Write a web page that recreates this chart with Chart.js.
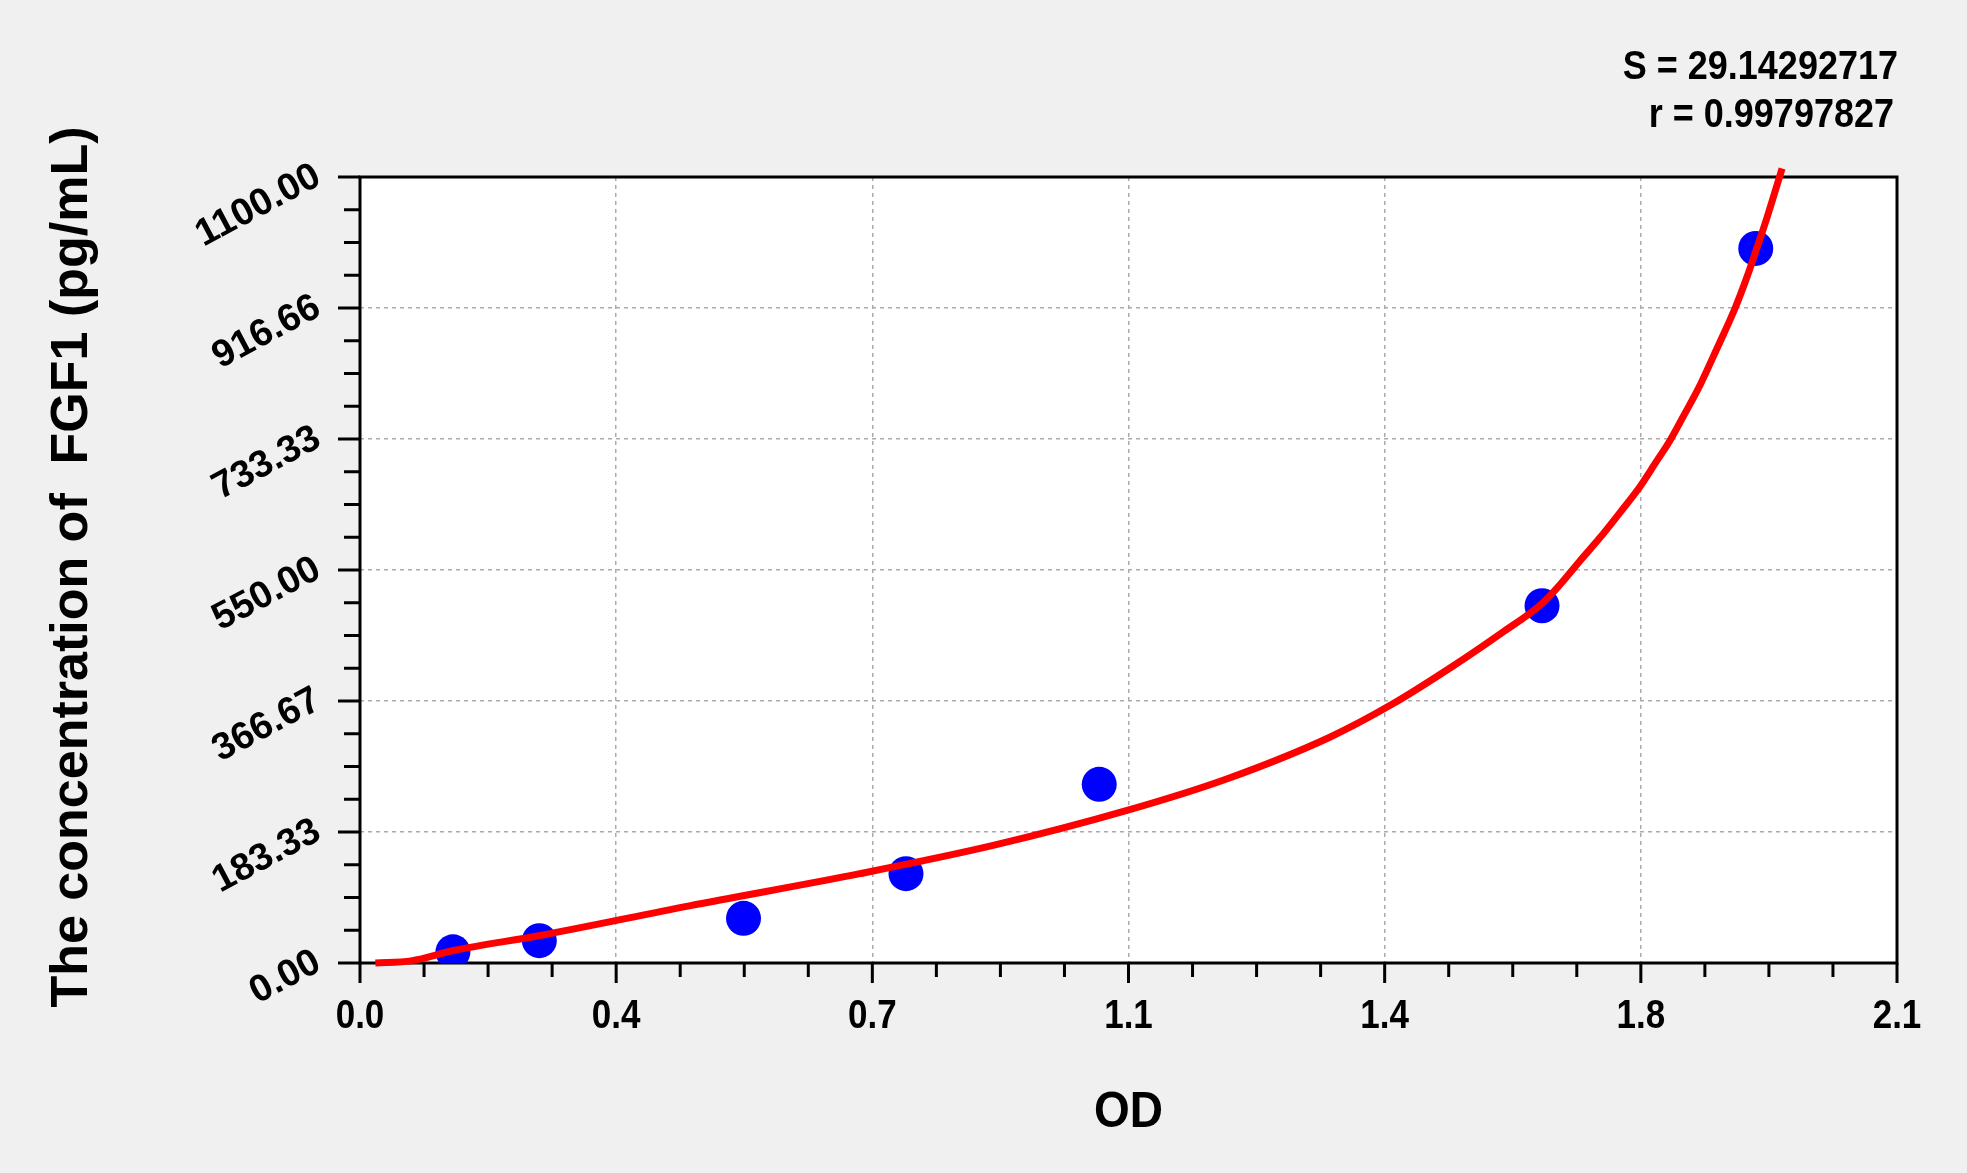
<!DOCTYPE html>
<html>
<head>
<meta charset="utf-8">
<script src="https://cdn.jsdelivr.net/npm/chart.js@4.4.1/dist/chart.umd.min.js"></script>
<style>
html,body{margin:0;padding:0;background:#f0f0f0;overflow:hidden;}
#wrap{width:1967px;height:1173px;position:relative;}
</style>
</head>
<body>
<div id="wrap"><canvas id="c"></canvas></div>
<script>
// ---- data ----
const xTickValues = [0, 0.35, 0.7, 1.05, 1.4, 1.75, 2.1];
const xTickLabels = ['0.0', '0.4', '0.7', '1.1', '1.4', '1.8', '2.1'];
const yTickValues = [0, 183.333, 366.667, 550, 733.333, 916.667, 1100];
const yTickLabels = ['0.00', '183.33', '366.67', '550.00', '733.33', '916.66', '1100.00'];

const pointOD   = [0.127, 0.245, 0.524, 0.746, 1.010, 1.615, 1.907];
const pointConc = [15.63, 31.25, 62.5, 125, 250, 500, 1000];

const curveOD = [0.021, 0.07, 0.128, 0.246, 0.45, 0.683, 0.865, 1.048, 1.184, 1.325,
  1.41, 1.494, 1.56, 1.615, 1.64, 1.667, 1.694, 1.722, 1.747, 1.772, 1.788, 1.808,
  1.831, 1.854, 1.879, 1.895, 1.908, 1.922, 1.943];
const curveConc = [0, 3, 17.5, 38.5, 80, 125, 164.5, 213.5, 257.5, 316,
  362, 416, 462, 503, 530, 563, 595, 631, 664, 703, 728, 765,
  809, 860, 917, 960, 999, 1042, 1112];

const statLines = ['S = 29.14292717', 'r = 0.99797827'];
const xTitle = 'OD';
const yTitle = 'The concentration of  FGF1 (pg/mL)';

// ---- drawing ----
const FONT = '"Liberation Sans", Arial, sans-serif';

function stretchedText(ctx, text, x, y, sy) {
  ctx.save();
  ctx.translate(x, y);
  ctx.scale(1, sy);
  ctx.fillText(text, 0, 0);
  ctx.restore();
}

const decorPlugin = {
  id: 'decor',
  beforeDraw(chart) {
    const ctx = chart.ctx, a = chart.chartArea;
    ctx.save();
    ctx.fillStyle = '#f0f0f0';
    ctx.fillRect(0, 0, chart.width, chart.height);
    ctx.fillStyle = '#ffffff';
    ctx.fillRect(a.left, a.top, a.right - a.left, a.bottom - a.top);
    ctx.restore();
  },
  beforeDatasetsDraw(chart) {
    const ctx = chart.ctx, a = chart.chartArea;
    const xs = chart.scales.x, ys = chart.scales.y;
    ctx.save();
    // frame
    ctx.strokeStyle = '#000';
    ctx.lineWidth = 3;
    ctx.strokeRect(a.left, a.top, a.right - a.left, a.bottom - a.top);

    // x ticks
    ctx.lineWidth = 3;
    ctx.beginPath();
    for (let i = 0; i < xTickValues.length; i++) {
      const px = xs.getPixelForValue(xTickValues[i]);
      ctx.moveTo(px, a.bottom); ctx.lineTo(px, a.bottom + 20);
      if (i < xTickValues.length - 1) {
        for (let k = 1; k < 4; k++) {
          const v = xTickValues[i] + (xTickValues[i + 1] - xTickValues[i]) * k / 4;
          const mx = xs.getPixelForValue(v);
          ctx.moveTo(mx, a.bottom); ctx.lineTo(mx, a.bottom + 14);
        }
      }
    }
    // y ticks
    for (let i = 0; i < yTickValues.length; i++) {
      const py = ys.getPixelForValue(yTickValues[i]);
      ctx.moveTo(a.left, py); ctx.lineTo(a.left - 22, py);
      if (i < yTickValues.length - 1) {
        for (let k = 1; k < 4; k++) {
          const v = yTickValues[i] + (yTickValues[i + 1] - yTickValues[i]) * k / 4;
          const my = ys.getPixelForValue(v);
          ctx.moveTo(a.left, my); ctx.lineTo(a.left - 16, my);
        }
      }
    }
    ctx.stroke();

    ctx.fillStyle = '#000';
    // x labels
    ctx.font = 'bold 35px ' + FONT;
    ctx.textAlign = 'center';
    ctx.textBaseline = 'alphabetic';
    for (let i = 0; i < xTickValues.length; i++) {
      stretchedText(ctx, xTickLabels[i], xs.getPixelForValue(xTickValues[i]), a.bottom + 65, 1.18);
    }
    // y labels (rotated)
    ctx.font = 'bold 38px ' + FONT;
    ctx.textAlign = 'right';
    ctx.textBaseline = 'middle';
    for (let i = 0; i < yTickValues.length; i++) {
      const py = ys.getPixelForValue(yTickValues[i]);
      ctx.save();
      ctx.translate(a.left - 42, py - 3);
      ctx.rotate(-28 * Math.PI / 180);
      ctx.fillText(yTickLabels[i], 0, 0);
      ctx.restore();
    }
    // axis titles
    ctx.font = 'bold 46px ' + FONT;
    ctx.textAlign = 'center';
    ctx.textBaseline = 'middle';
    stretchedText(ctx, xTitle, (a.left + a.right) / 2, 1113, 1.08);
    ctx.save();
    ctx.translate(73, 567);
    ctx.rotate(-Math.PI / 2);
    ctx.font = 'bold 52px ' + FONT;
    ctx.fillText(yTitle, 0, 0);
    ctx.restore();
    // stats
    ctx.font = 'bold 36px ' + FONT;
    ctx.textAlign = 'right';
    ctx.textBaseline = 'alphabetic';
    stretchedText(ctx, statLines[0], a.right + 1, 79, 1.12);
    stretchedText(ctx, statLines[1], a.right - 3, 127, 1.12);
    ctx.restore();
  }
};

const curveData = curveOD.map((x, i) => ({ x: x, y: curveConc[i] }));
const pointData = pointOD.map((x, i) => ({ x: x, y: pointConc[i] }));

new Chart(document.getElementById('c'), {
  type: 'scatter',
  data: {
    datasets: [
      {
        label: 'fit',
        data: curveData,
        showLine: true,
        borderColor: '#ff0000',
        borderWidth: 7,
        pointRadius: 0,
        fill: false,
        cubicInterpolationMode: 'monotone',
        clip: false
      },
      {
        label: 'standards',
        data: pointData,
        showLine: false,
        pointRadius: 17.5,
        pointHoverRadius: 17.5,
        pointBackgroundColor: '#0000ff',
        pointBorderWidth: 0,
        backgroundColor: '#0000ff'
      }
    ]
  },
  options: {
    responsive: true,
    maintainAspectRatio: false,
    devicePixelRatio: 1,
    animation: false,
    events: [],
    layout: { padding: { left: 0, right: 70, top: 177, bottom: 0 } },
    plugins: { legend: { display: false }, tooltip: { enabled: false }, title: { display: false } },
    scales: {
      x: {
        type: 'linear',
        min: 0, max: 2.1,
        afterBuildTicks(scale) { scale.ticks = xTickValues.map(v => ({ value: v })); },
        afterFit(scale) { scale.height = 210; },
        ticks: { display: false },
        border: { display: false, dash: [4, 4] },
        grid: {
          drawTicks: false,
          lineWidth: 1.5,
          color: (c) => (c.index === 0 || c.index === xTickValues.length - 1) ? 'rgba(0,0,0,0)' : '#ababab'
        }
      },
      y: {
        type: 'linear',
        min: 0, max: 1100,
        afterBuildTicks(scale) { scale.ticks = yTickValues.map(v => ({ value: v })); },
        afterFit(scale) { scale.width = 360; },
        ticks: { display: false },
        border: { display: false, dash: [4, 4] },
        grid: {
          drawTicks: false,
          lineWidth: 1.5,
          color: (c) => (c.index === 0 || c.index === yTickValues.length - 1) ? 'rgba(0,0,0,0)' : '#ababab'
        }
      }
    }
  },
  plugins: [decorPlugin]
});
</script>
</body>
</html>
